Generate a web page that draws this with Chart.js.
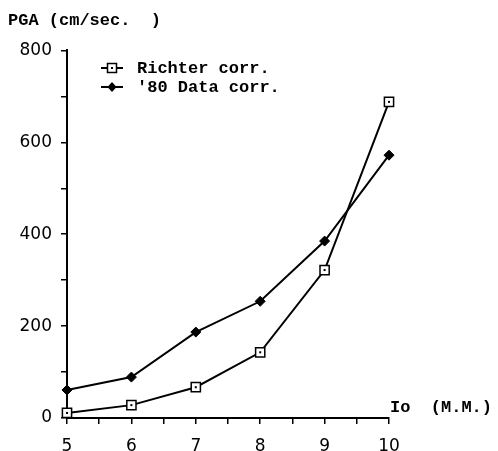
<!DOCTYPE html>
<html>
<head>
<meta charset="utf-8">
<script src="https://cdn.jsdelivr.net/npm/chart.js@4/dist/chart.umd.min.js"></script>
<style>
html,body{margin:0;padding:0;background:#fff;}
#wrap{width:498px;height:451px;position:relative;}
</style>
</head>
<body>
<div id="wrap"><canvas id="c" width="498" height="451"></canvas></div>
<script>
const intensities = [5, 6, 7, 8, 9, 10];
const richterCorr = [11, 28, 67, 143, 322, 688];
const data80Corr = [61, 89, 187, 254, 385, 572];
const seriesNames = ["Richter corr.", "'80 Data corr."];
const yTitle = "PGA (cm/sec.  )";
const xTitle = "Io  (M.M.)";

const monoFont = "'Liberation Mono', 'DejaVu Sans Mono', monospace";
const tickFont = "'DejaVu Sans', sans-serif";

const overlay = {
  id: 'overlay',
  afterDatasetsDraw(chart) {
    const ctx = chart.ctx;
    const meta = chart.getDatasetMeta(0);
    ctx.save();
    ctx.fillStyle = '#000';
    meta.data.forEach(p => { ctx.fillRect(p.x - 1, p.y - 1, 2, 2); });
    ctx.restore();
  },
  afterDraw(chart) {
    const ctx = chart.ctx;
    const xs = chart.scales.x;
    ctx.save();
    ctx.fillStyle = '#000';
    ctx.strokeStyle = '#000';
    ctx.font = "bold 17px " + monoFont;
    ctx.textBaseline = 'middle';
    ctx.textAlign = 'left';
    ctx.fillText(xTitle, xs.right + 1, xs.top - 10);
    const rows = [
      {y: 68, label: seriesNames[0]},
      {y: 87, label: seriesNames[1]}
    ];
    rows.forEach((r, i) => {
      ctx.lineWidth = 2;
      ctx.beginPath();
      ctx.moveTo(101, r.y);
      ctx.lineTo(123, r.y);
      ctx.stroke();
      if (i === 0) {
        ctx.fillStyle = '#fff';
        ctx.lineWidth = 1.5;
        ctx.beginPath();
        ctx.rect(112 - 4.5, r.y - 4.5, 9, 9);
        ctx.fill();
        ctx.stroke();
        ctx.fillStyle = '#000';
        ctx.fillRect(111, r.y - 1, 2, 2);
      } else {
        ctx.fillStyle = '#000';
        ctx.beginPath();
        ctx.moveTo(112, r.y - 5);
        ctx.lineTo(116.5, r.y);
        ctx.lineTo(112, r.y + 5);
        ctx.lineTo(107.5, r.y);
        ctx.closePath();
        ctx.fill();
      }
      ctx.fillStyle = '#000';
      ctx.fillText(r.label, 137, r.y + 1);
    });
    ctx.restore();
  }
};

new Chart(document.getElementById('c'), {
  type: 'line',
  data: {
    datasets: [
      {
        label: seriesNames[0],
        data: intensities.map((x, i) => ({x: x, y: richterCorr[i]})),
        borderColor: '#000',
        borderWidth: 2,
        pointStyle: 'rect',
        pointRadius: 6.5,
        pointBorderWidth: 1.5,
        pointBackgroundColor: '#fff',
        pointBorderColor: '#000',
        tension: 0,
        clip: false
      },
      {
        label: seriesNames[1],
        data: intensities.map((x, i) => ({x: x, y: data80Corr[i]})),
        borderColor: '#000',
        borderWidth: 2,
        pointStyle: 'rectRot',
        pointRadius: 5,
        pointBorderWidth: 1,
        pointBackgroundColor: '#000',
        pointBorderColor: '#000',
        tension: 0,
        clip: false
      }
    ]
  },
  options: {
    responsive: false,
    animation: false,
    events: [],
    layout: {padding: {left: 8, right: 109, top: 0, bottom: 0}},
    plugins: {
      legend: {display: false},
      tooltip: {enabled: false},
      title: {
        display: true,
        text: yTitle,
        align: 'start',
        color: '#000',
        font: {family: monoFont, size: 17, weight: 'bold'},
        padding: {top: 11, bottom: 19}
      }
    },
    scales: {
      x: {
        type: 'linear',
        min: 5, max: 10,
        afterFit(s) { s.height = 33; },
        border: {display: true, color: '#000', width: 2},
        grid: {drawOnChartArea: false, drawTicks: true, tickLength: 6, color: '#000', lineWidth: 1.5},
        ticks: {
          stepSize: 0.5,
          color: '#000',
          padding: 12,
          maxRotation: 0,
          autoSkip: false,
          font: {family: tickFont, size: 17},
          callback: v => Number.isInteger(v) ? String(v) : ''
        }
      },
      y: {
        min: 0, max: 800,
        afterFit(s) { s.width = 59; },
        border: {display: true, color: '#000', width: 2},
        grid: {drawOnChartArea: false, drawTicks: true, tickLength: 6, color: '#000', lineWidth: 1.5},
        ticks: {
          stepSize: 100,
          color: '#000',
          padding: 9,
          autoSkip: false,
          font: {family: tickFont, size: 17},
          callback: v => (v % 200 === 0) ? String(v) : ''
        }
      }
    }
  },
  plugins: [overlay]
});
</script>
</body>
</html>
